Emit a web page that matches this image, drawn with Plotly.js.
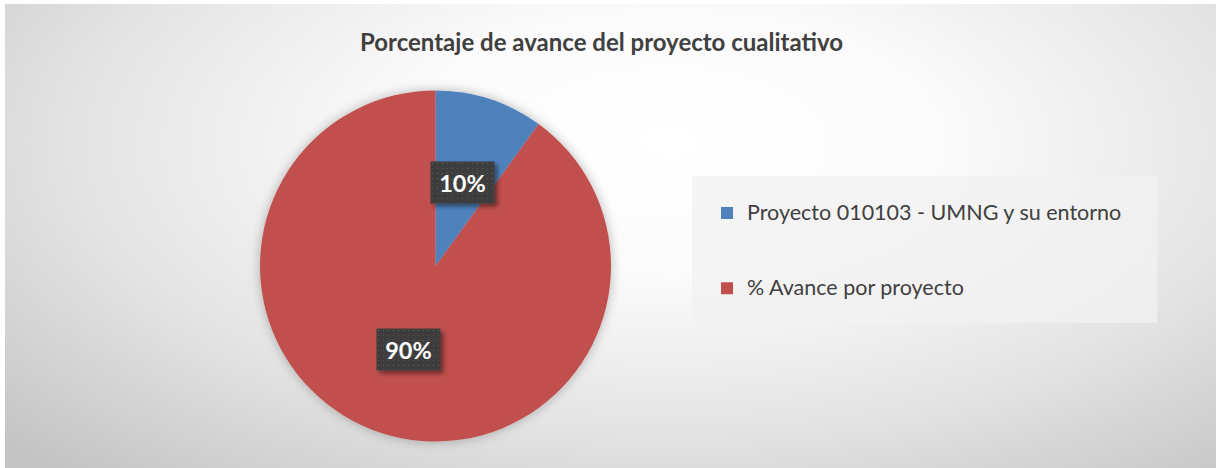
<!DOCTYPE html>
<html>
<head>
<meta charset="utf-8">
<script src="https://cdn.plot.ly/plotly-3.0.1.min.js"></script>
<style>
  html, body { margin:0; padding:0; background:#ffffff; width:1216px; height:468px; overflow:hidden; }
  #bg { position:absolute; left:5px; top:4px; width:1211px; height:464px;
        background: radial-gradient(ellipse 75% 95% at 55% 30%, #ffffff 0%, #fbfbfb 30%, #e4e4e4 65%, #c4c4c4 100%); }
  #chart { position:absolute; left:0; top:0; width:1216px; height:468px; }
  .pielayer .trace { filter: url(#pieShadow); }
  .annotation rect.bg { fill: url(#dots) !important; filter: url(#boxShadow); }
</style>
</head>
<body>
<svg width="0" height="0" style="position:absolute">
  <defs>
    <filter id="pieShadow" x="-20%" y="-20%" width="140%" height="140%">
      <feGaussianBlur in="SourceAlpha" stdDeviation="6"/>
      <feComponentTransfer><feFuncA type="linear" slope="0.28"/></feComponentTransfer>
      <feMerge><feMergeNode/><feMergeNode in="SourceGraphic"/></feMerge>
    </filter>
    <filter id="boxShadow" x="-30%" y="-30%" width="160%" height="160%">
      <feGaussianBlur in="SourceAlpha" stdDeviation="2"/>
      <feOffset dx="3" dy="3"/>
      <feComponentTransfer><feFuncA type="linear" slope="0.45"/></feComponentTransfer>
      <feMerge><feMergeNode/><feMergeNode in="SourceGraphic"/></feMerge>
    </filter>
    <pattern id="dots" width="5" height="5" patternUnits="userSpaceOnUse">
      <rect width="5" height="5" fill="#3d3d3d"/>
      <rect x="2" y="2" width="1" height="1" fill="#5c5c5c"/>
    </pattern>
  </defs>
</svg>
<div id="bg"></div>
<div id="chart"></div>
<script>
// ---- data ----
const categories = ['Proyecto 010103 - UMNG y su entorno', '% Avance por proyecto'];
const values = [10, 90];
const sliceColors = ['#4F81BD', '#C0504D'];
const chartTitle = 'Porcentaje de avance del proyecto cualitativo';

// ---- layout constants ----
const W = 1216, H = 468;
const pieCx = 435.5, pieCy = 266, pieR = 175.5;     // pixels
const domX = [(pieCx - pieR) / W, (pieCx + pieR) / W];
const domY = [(H - pieCy - pieR) / H, (H - pieCy + pieR) / H];

// legend entries padded with blank lines to get the wide spacing
const legendLabels = categories.map(c =>
  '&nbsp;<br><span style="font-size:21.5px">' + c + '</span><br>&nbsp;');

const total = values.reduce((a, b) => a + b, 0);
const annotations = [];
let acc = 0;
values.forEach((v, i) => {
  const mid = (acc + v / 2) / total * 2 * Math.PI; // clockwise from 12 o'clock
  acc += v;
  const px = pieCx + 0.5 * pieR * Math.sin(mid);
  const py = pieCy - 0.5 * pieR * Math.cos(mid);
  annotations.push({
    xref: 'paper', yref: 'paper', x: px / W, y: (H - py) / H,
    xanchor: 'center', yanchor: 'middle', showarrow: false,
    text: '<b>' + Math.round(v / total * 100) + '%</b>',
    font: { family: 'Lato, sans-serif', size: 23.5, color: '#ffffff' },
    bgcolor: '#404040', borderpad: 2, width: 59, height: 37
  });
});

const trace = {
  type: 'pie',
  labels: legendLabels,
  values: values,
  sort: false,
  direction: 'clockwise',
  rotation: 0,
  textinfo: 'none',
  hoverinfo: 'skip',
  marker: { colors: sliceColors, line: { width: 0 } },
  domain: { x: domX, y: domY }
};

const layout = {
  width: W, height: H,
  margin: { l: 0, r: 0, t: 0, b: 0 },
  paper_bgcolor: 'rgba(0,0,0,0)',
  plot_bgcolor: 'rgba(0,0,0,0)',
  title: {
    text: '<b>' + chartTitle + '</b>',
    font: { family: 'Lato, sans-serif', size: 24, color: '#404040' },
    x: 601.5 / W, xanchor: 'center', xref: 'paper',
    y: 1 - 43 / H, yanchor: 'middle', yref: 'paper'
  },
  showlegend: true,
  legend: {
    x: 707 / W, xanchor: 'left',
    y: (H - 170.5) / H, yanchor: 'top',
    bgcolor: 'rgba(0,0,0,0)', borderwidth: 0,
    font: { family: 'Lato, sans-serif', size: 18.5, color: '#404040' }
  },
  shapes: [{
    type: 'rect', xref: 'paper', yref: 'paper', layer: 'below',
    x0: 692 / W, x1: 1157 / W, y0: (H - 323) / H, y1: (H - 176) / H,
    fillcolor: 'rgba(242,242,242,0.75)', line: { width: 0 }
  }],
  annotations: annotations
};

Plotly.newPlot('chart', [trace], layout, { displayModeBar: false, staticPlot: true });
</script>
</body>
</html>
